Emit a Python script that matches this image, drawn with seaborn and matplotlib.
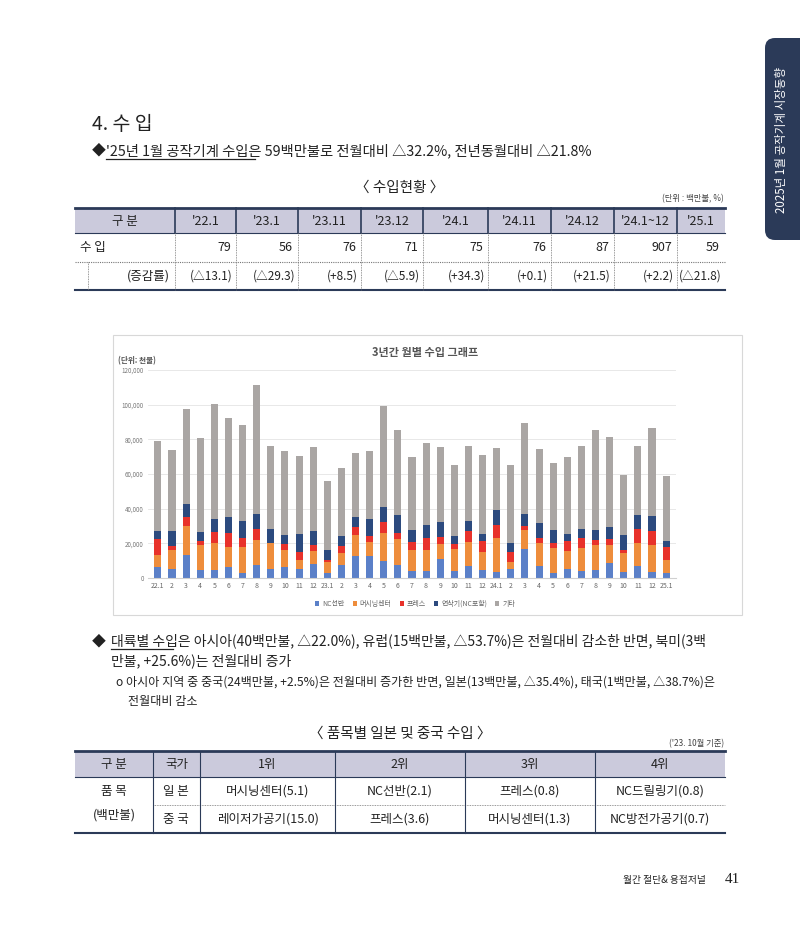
import matplotlib
matplotlib.use("Agg")
import matplotlib.pyplot as plt
from matplotlib import font_manager
from matplotlib.patches import Rectangle, FancyBboxPatch
from matplotlib.lines import Line2D
import seaborn as sns
import pandas as pd

names = {f.name for f in font_manager.fontManager.ttflist}
cands = [n for n in ["Noto Sans CJK KR", "Noto Sans CJK JP", "Noto Sans CJK SC", "Noto Sans CJK TC"] if n in names]
FONTS = cands + ["DejaVu Sans"]
plt.rcParams["font.family"] = FONTS

# ---------------- data ----------------
month_keys = ["22.%d" % m for m in range(1, 13)] + ["23.%d" % m for m in range(1, 13)] + \
             ["24.%d" % m for m in range(1, 13)] + ["25.1"]
tick_labels = ["22.1"] + [str(m) for m in range(2, 13)] + ["23.1"] + [str(m) for m in range(2, 13)] + \
              ["24.1"] + [str(m) for m in range(2, 13)] + ["25.1"]
nc_lathe = [6.5, 5.2, 13.0, 4.4, 4.4, 6.5, 2.7, 7.5, 5.4, 6.5, 5.2, 8.3,
            3.1, 7.5, 12.9, 12.9, 9.6, 7.5, 4.0, 4.0, 10.8, 4.0, 7.1, 4.8,
            3.7, 5.4, 16.9, 6.7, 2.7, 5.2, 4.0, 4.8, 8.8, 3.3, 7.1, 3.7, 2.7]
machining = [7.0, 10.8, 17.0, 14.8, 16.0, 11.4, 15.2, 14.4, 14.6, 9.8, 5.0, 7.3,
             5.9, 6.9, 11.9, 7.7, 16.2, 15.2, 12.2, 12.2, 8.8, 12.5, 13.5, 10.4,
             19.4, 3.6, 10.6, 13.7, 14.4, 10.6, 13.1, 14.0, 10.4, 10.9, 13.1, 15.1, 7.9]
press = [9.2, 2.7, 5.0, 2.1, 6.1, 8.3, 5.1, 6.1, 0.0, 3.1, 5.0, 3.2,
         1.6, 3.9, 4.8, 3.8, 6.7, 3.1, 4.8, 6.7, 3.9, 3.1, 6.5, 6.0,
         7.3, 5.8, 2.3, 2.5, 3.3, 5.4, 5.8, 3.3, 3.5, 2.1, 8.3, 8.5, 7.1]
grinder = [4.3, 8.3, 7.7, 5.4, 7.7, 8.8, 9.9, 9.1, 8.0, 5.4, 10.0, 8.3,
           5.6, 6.1, 5.4, 9.6, 8.3, 10.7, 6.7, 7.7, 8.6, 4.8, 5.6, 4.4,
           9.0, 5.6, 7.3, 9.0, 7.5, 4.0, 5.4, 5.4, 6.5, 8.3, 7.7, 8.5, 3.8]
total = [79.0, 74.0, 97.3, 81.0, 100.4, 92.5, 88.3, 111.3, 76.0, 73.3, 70.2, 75.8,
         55.8, 63.7, 72.3, 73.3, 99.0, 85.4, 69.8, 77.7, 75.8, 65.0, 76.0, 71.2,
         75.0, 65.0, 89.6, 74.4, 66.3, 70.0, 76.3, 85.2, 81.2, 59.2, 76.0, 86.7, 58.7]
series_names = ["NC선반", "머시닝센터", "프레스", "연삭기(NC포함)", "기타"]
series_colors = ["#5b80c8", "#ee8d3c", "#e8322b", "#2c4a7e", "#aaa6a4"]

t1_cols = ["구 분", "'22.1", "'23.1", "'23.11", "'23.12", "'24.1", "'24.11", "'24.12", "'24.1~12", "'25.1"]
t1_import = ["79", "56", "76", "71", "75", "76", "87", "907", "59"]
t1_rate = ["(△13.1)", "(△29.3)", "(+8.5)", "(△5.9)", "(+34.3)", "(+0.1)", "(+21.5)", "(+2.2)", "(△21.8)"]

t2_cols = ["구 분", "국가", "1위", "2위", "3위", "4위"]
t2_japan = ["머시닝센터(5.1)", "NC선반(2.1)", "프레스(0.8)", "NC드릴링기(0.8)"]
t2_china = ["레이저가공기(15.0)", "프레스(3.6)", "머시닝센터(1.3)", "NC방전가공기(0.7)"]

# ---------------- page ----------------
fig = plt.figure(figsize=(8, 9.3), dpi=100)
bg = fig.add_axes([0, 0, 1, 1])
bg.set_xlim(0, 800)
bg.set_ylim(930, 0)
bg.axis("off")
TXT = "#222222"

# side tab
bg.add_patch(FancyBboxPatch((765, 38), 60, 202, boxstyle="round,pad=0,rounding_size=10",
                            fc="#2b3a58", ec="none"))
bg.text(782, 140, "2025년 1월 공작기계 시장동향", rotation=90, color="white",
        fontsize=8.3, ha="center", va="center")

bg.text(92, 125, "4. 수 입", fontsize=14, color=TXT, va="center")
bg.text(92, 151, "◆", fontsize=10, color=TXT, va="center")
bg.text(106, 151, "'25년 1월 공작기계 수입은 59백만불로 전월대비 △32.2%, 전년동월대비 △21.8%",
        fontsize=10.3, color=TXT, va="center")
bg.add_line(Line2D([106, 255], [159, 159], color=TXT, lw=0.9))

# table 1
bg.text(400, 188, "〈 수입현황 〉", fontsize=10.5, ha="center", va="center", color=TXT)
bg.text(724, 199, "(단위 : 백만불, %)", fontsize=6, ha="right", va="center", color="#444")
xs1 = [75, 175, 236, 298, 361, 423, 488, 551, 614, 677, 725]
bg.add_patch(Rectangle((75, 208), 650, 25, fc="#cbcadc", ec="none"))
bg.add_line(Line2D([75, 725], [208, 208], color="#2b3a58", lw=2))
bg.add_line(Line2D([75, 725], [233, 233], color="#2b3a58", lw=0.8))
bg.add_line(Line2D([75, 725], [262, 262], color="#777", lw=0.8, ls=(0, (1, 1))))
bg.add_line(Line2D([75, 725], [290, 290], color="#2b3a58", lw=1.5))
for i, x in enumerate(xs1[1:-1]):
    bg.add_line(Line2D([x, x], [208, 233], color="#2b3a58", lw=1.2))
    bg.add_line(Line2D([x, x], [233, 290], color="#777", lw=0.6, ls=(0, (1, 1))))
bg.add_line(Line2D([88, 88], [262, 290], color="#777", lw=0.6, ls=(0, (1, 1))))
for i, c in enumerate(t1_cols):
    cx = (xs1[i] + xs1[i + 1]) / 2
    bg.text(cx, 221, c, fontsize=9, ha="center", va="center", color=TXT)
bg.text(80, 247, "수 입", fontsize=9, va="center", color=TXT)
bg.text(170, 276, "(증감률)", fontsize=9, ha="right", va="center", color=TXT)
for i in range(9):
    bg.text(xs1[i + 2] - 5, 247, t1_import[i], fontsize=9, ha="right", va="center", color=TXT)
    bg.text(xs1[i + 2] - 3, 276, t1_rate[i], fontsize=8.5, ha="right", va="center", color=TXT)

# chart frame
bg.add_patch(Rectangle((113, 335), 629, 280, fc="white", ec="#d8d8d8", lw=0.8))
bg.text(425, 352, "3년간 월별 수입 그래프", fontsize=8, ha="center", va="center",
        color="#555", fontweight="bold")
bg.text(118, 361, "(단위: 천불)", fontsize=5.5, va="center", color="#555", fontweight="bold")

ax = fig.add_axes([148 / 800, 1 - 578 / 930, (676 - 148) / 800, (578 - 370) / 930])
cum = [nc_lathe]
for s in [machining, press, grinder]:
    cum.append([a + b for a, b in zip(cum[-1], s)])
cum.append(total)
for vals, col in zip(reversed(cum), reversed(series_colors)):
    df = pd.DataFrame({"month": month_keys, "v": [v * 1000 for v in vals]})
    sns.barplot(data=df, x="month", y="v", order=month_keys, color=col, saturation=1,
                width=0.5, ax=ax, errorbar=None)
ax.set_ylim(0, 120000)
ax.set_xlim(-0.7, len(month_keys) - 0.3)
ax.set_yticks(range(0, 120001, 20000))
ax.set_yticklabels(["{:,}".format(v) for v in range(0, 120001, 20000)], fontsize=4.5, color="#777")
ax.set_xticks(range(len(month_keys)))
ax.set_xticklabels(tick_labels, fontsize=5, color="#666")
ax.tick_params(length=0, pad=3)
ax.set_xlabel("")
ax.set_ylabel("")
ax.grid(axis="y", color="#e4e4e4", lw=0.6)
ax.set_axisbelow(True)
for sp in ax.spines.values():
    sp.set_visible(False)
ax.spines["bottom"].set_visible(True)
ax.spines["bottom"].set_color("#d0d0d0")
handles = [Rectangle((0, 0), 1, 1, fc=c) for c in series_colors]
fig.legend(handles, series_names, loc="center", bbox_to_anchor=(415 / 800, 1 - 604 / 930),
           ncol=5, frameon=False, fontsize=5, handlelength=0.6, handleheight=0.6,
           columnspacing=1.2, handletextpad=0.4, labelcolor="#666")

# body text 2
bg.text(92, 641, "◆", fontsize=10, color=TXT, va="center")
bg.text(111, 641, "대륙별 수입은 아시아(40백만불, △22.0%), 유럽(15백만불, △53.7%)은 전월대비 감소한 반면, 북미(3백",
        fontsize=10, color=TXT, va="center")
bg.add_line(Line2D([111, 173], [649, 649], color=TXT, lw=0.9))
bg.text(111, 661, "만불, +25.6%)는 전월대비 증가", fontsize=10, color=TXT, va="center")
bg.text(116, 682, "o 아시아 지역 중 중국(24백만불, +2.5%)은 전월대비 증가한 반면, 일본(13백만불, △35.4%), 태국(1백만불, △38.7%)은",
        fontsize=8.7, color=TXT, va="center")
bg.text(128, 701, "전월대비 감소", fontsize=8.7, color=TXT, va="center")

# table 2
bg.text(400, 734, "〈 품목별 일본 및 중국 수입 〉", fontsize=10.5, ha="center", va="center", color=TXT)
bg.text(724, 744, "('23. 10월 기준)", fontsize=6, ha="right", va="center", color="#444")
xs2 = [75, 153, 200, 335, 465, 595, 725]
bg.add_patch(Rectangle((75, 751), 650, 26, fc="#cbcadc", ec="none"))
bg.add_line(Line2D([75, 725], [751, 751], color="#2b3a58", lw=2))
bg.add_line(Line2D([75, 725], [777, 777], color="#2b3a58", lw=0.8))
bg.add_line(Line2D([153, 725], [805, 805], color="#777", lw=0.6, ls=(0, (1, 1))))
bg.add_line(Line2D([75, 725], [833, 833], color="#2b3a58", lw=1.5))
for x in xs2[1:-1]:
    bg.add_line(Line2D([x, x], [751, 833], color="#2b3a58", lw=0.8))
for i, c in enumerate(t2_cols):
    bg.text((xs2[i] + xs2[i + 1]) / 2, 764, c, fontsize=9, ha="center", va="center", color=TXT)
bg.text(114, 791, "품 목", fontsize=9, ha="center", va="center", color=TXT)
bg.text(114, 815, "(백만불)", fontsize=9, ha="center", va="center", color=TXT)
bg.text(176, 791, "일 본", fontsize=9, ha="center", va="center", color=TXT)
bg.text(176, 819, "중 국", fontsize=9, ha="center", va="center", color=TXT)
for i in range(4):
    cx = (xs2[i + 2] + xs2[i + 3]) / 2
    bg.text(cx, 791, t2_japan[i], fontsize=9, ha="center", va="center", color=TXT)
    bg.text(cx, 819, t2_china[i], fontsize=9, ha="center", va="center", color=TXT)

# footer
bg.text(706, 880, "월간 절단& 용접저널", fontsize=7, ha="right", va="center", color=TXT)
bg.text(725, 879, "41", fontsize=11, ha="left", va="center", color=TXT, family="Liberation Serif")

fig.savefig("out.png", dpi=100)
